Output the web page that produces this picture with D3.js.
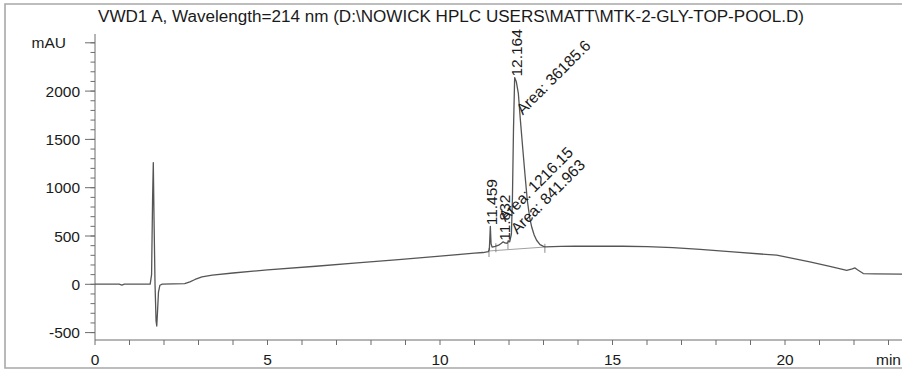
<!DOCTYPE html>
<html>
<head>
<meta charset="utf-8">
<script src="https://cdn.jsdelivr.net/npm/d3@7/dist/d3.min.js"></script>
<style>
  html, body { margin: 0; padding: 0; background: #fff; }
  svg { display: block; font-family: "Liberation Sans", Arial, sans-serif; }
</style>
</head>
<body>
<svg id="chart" width="902" height="371"></svg>
<script>
// VWD1 A signal, 214 nm: retention time (min) and absorbance (mAU)
const timeMin = [
  0.00, 0.70, 0.78, 0.85, 1.60, 1.64, 1.67, 1.69, 1.71, 1.74, 1.77, 1.79, 1.81, 1.84, 1.88, 1.95,
  2.60, 2.75, 2.90, 3.10, 3.40, 4.00, 5.00, 6.40, 7.60, 8.80, 10.00, 11.00, 11.25, 11.40,
  11.43, 11.459, 11.48, 11.51, 11.60, 11.70, 11.78, 11.832, 11.88, 11.95, 11.99, 12.02,
  12.07, 12.10, 12.13, 12.164, 12.21, 12.27, 12.33, 12.40, 12.46, 12.53, 12.60, 12.66,
  12.73, 12.80, 12.90, 13.00, 13.05, 13.50, 13.90, 15.30, 16.00, 16.75, 17.54, 18.49,
  19.76, 20.72, 21.30, 21.79, 21.95, 22.03, 22.10, 22.27, 22.60, 23.40
];
const absorbance = [
  2, 1, -8, 1, 2, 100, 900, 1260, 700, 0, -380, -432, -300, -80, -10, 2,
  8, 25, 50, 76, 95, 117, 150, 187, 222, 256, 292, 322, 329, 338,
  360, 600, 420, 385, 392, 405, 425, 440, 428, 425, 450, 440,
  520, 900, 1600, 2140, 2100, 1980, 1700, 1400, 1150, 870, 690, 590,
  510, 456, 410, 392, 388, 392, 394, 394, 390, 380, 362, 335,
  301, 231, 185, 145, 160, 169, 150, 111, 108, 106
];

// Integrated peaks: retention time, apex height, area (mAU*s)
const peakTimes = [11.459, 11.832, 12.164];
const peakHeights = [600, 440, 2140];
const peakAreas = ["1216.15", "841.963", "36185.6"];

// Integration baseline and peak boundary markers
const baselineTimes = [11.42, 13.05];
const baselineValues = [345, 386];
const boundaryTimes = [11.42, 11.62, 11.97, 13.04];
const boundaryValues = [345, 394, 426, 388];

// Axis ticks
const xMajorTicks = [0, 5, 10, 15, 20];
const xMinorTicks = d3.range(0, 24, 1);
const yMajorTicks = [-500, 0, 500, 1000, 1500, 2000];
const yMinorTicks = d3.range(-500, 2600, 100);

const titleText = "VWD1 A, Wavelength=214 nm (D:\\NOWICK HPLC USERS\\MATT\\MTK-2-GLY-TOP-POOL.D)";

const svg = d3.select("#chart");
const W = 902, H = 371;

const x = d3.scaleLinear().domain([0, 1]).range([95, 129.5]);
const y = d3.scaleLinear().domain([0, 500]).range([284.3, 236]);

const axisColor = "#6d6d6d";
const textColor = "#1a1a1a";
const fontSize = 15.5;

// outer frame
svg.append("path")
  .attr("d", `M${W + 2},4 H5 V368 H${W + 2}`)
  .attr("fill", "none").attr("stroke", "#a8a8a8").attr("stroke-width", 1.6);

// title
svg.append("text")
  .attr("x", 451).attr("y", 22)
  .attr("text-anchor", "middle")
  .attr("font-size", 16).attr("fill", textColor)
  .attr("textLength", 706).attr("lengthAdjust", "spacingAndGlyphs")
  .text(titleText);

const yTop = 34, xAxisY = 340;

// y axis
svg.append("line").attr("x1", 95).attr("x2", 95).attr("y1", yTop).attr("y2", xAxisY)
  .attr("stroke", axisColor).attr("stroke-width", 1);
svg.selectAll(".ymin").data(yMinorTicks).join("line")
  .attr("x1", 90.5).attr("x2", 95).attr("y1", d => y(d)).attr("y2", d => y(d))
  .attr("stroke", axisColor).attr("stroke-width", 1);
svg.selectAll(".ymaj").data(yMajorTicks.concat([2500])).join("line")
  .attr("x1", 85).attr("x2", 95).attr("y1", d => y(d)).attr("y2", d => y(d))
  .attr("stroke", axisColor).attr("stroke-width", 1);
svg.selectAll(".ylab").data(yMajorTicks).join("text")
  .attr("x", 80).attr("y", d => y(d)).attr("dy", "0.36em")
  .attr("text-anchor", "end").attr("font-size", fontSize).attr("fill", textColor)
  .text(d => d);
svg.append("text").attr("x", 66).attr("y", y(2500)).attr("dy", "0.36em")
  .attr("text-anchor", "end").attr("font-size", fontSize).attr("fill", textColor)
  .text("mAU");

// x axis
svg.append("line").attr("x1", 95).attr("x2", W + 2).attr("y1", xAxisY).attr("y2", xAxisY)
  .attr("stroke", axisColor).attr("stroke-width", 1);
svg.selectAll(".xmin").data(xMinorTicks).join("line")
  .attr("x1", d => x(d)).attr("x2", d => x(d)).attr("y1", xAxisY).attr("y2", xAxisY + 5)
  .attr("stroke", axisColor).attr("stroke-width", 1);
svg.selectAll(".xlab").data(xMajorTicks).join("text")
  .attr("x", d => x(d)).attr("y", 365)
  .attr("text-anchor", "middle").attr("font-size", fontSize).attr("fill", textColor)
  .text(d => d);
svg.append("text").attr("x", 901).attr("y", 365)
  .attr("text-anchor", "end")
  .attr("font-size", fontSize).attr("fill", textColor).text("min");

// integration baseline + boundary marks
svg.append("line")
  .attr("x1", x(baselineTimes[0])).attr("y1", y(baselineValues[0]))
  .attr("x2", x(baselineTimes[1])).attr("y2", y(baselineValues[1]))
  .attr("stroke", "#a0a0a0").attr("stroke-width", 1);
svg.selectAll(".bnd").data(boundaryTimes).join("line")
  .attr("x1", d => x(d)).attr("x2", d => x(d))
  .attr("y1", (d, i) => y(boundaryValues[i]) - 3).attr("y2", (d, i) => y(boundaryValues[i]) + 6)
  .attr("stroke", "#8a8a8a").attr("stroke-width", 1);

// chromatogram trace
const pts = timeMin.map((t, i) => [t, absorbance[i]]);
svg.append("path").datum(pts)
  .attr("d", d3.line().x(d => x(d[0])).y(d => y(d[1])))
  .attr("fill", "none").attr("stroke", "#555").attr("stroke-width", 1.3)
  .attr("stroke-linejoin", "round");

// retention-time labels at each apex
svg.selectAll(".rt").data(peakTimes).join("text")
  .attr("transform", (d, i) => `translate(${x(d) + 7},${y(peakHeights[i]) - 1}) rotate(-90)`)
  .attr("font-size", fontSize).attr("fill", textColor)
  .text(d => d.toFixed(3));

// area labels, rotated 45 degrees
const areaOffsets = [[15, -4], [14, -7], [8, 38]];
svg.selectAll(".area").data(peakAreas).join("text")
  .attr("transform", (d, i) => `translate(${x(peakTimes[i]) + areaOffsets[i][0]},${y(peakHeights[i]) + areaOffsets[i][1]}) rotate(-45)`)
  .attr("font-size", fontSize).attr("fill", textColor)
  .text(d => "Area: " + d);
</script>
</body>
</html>
